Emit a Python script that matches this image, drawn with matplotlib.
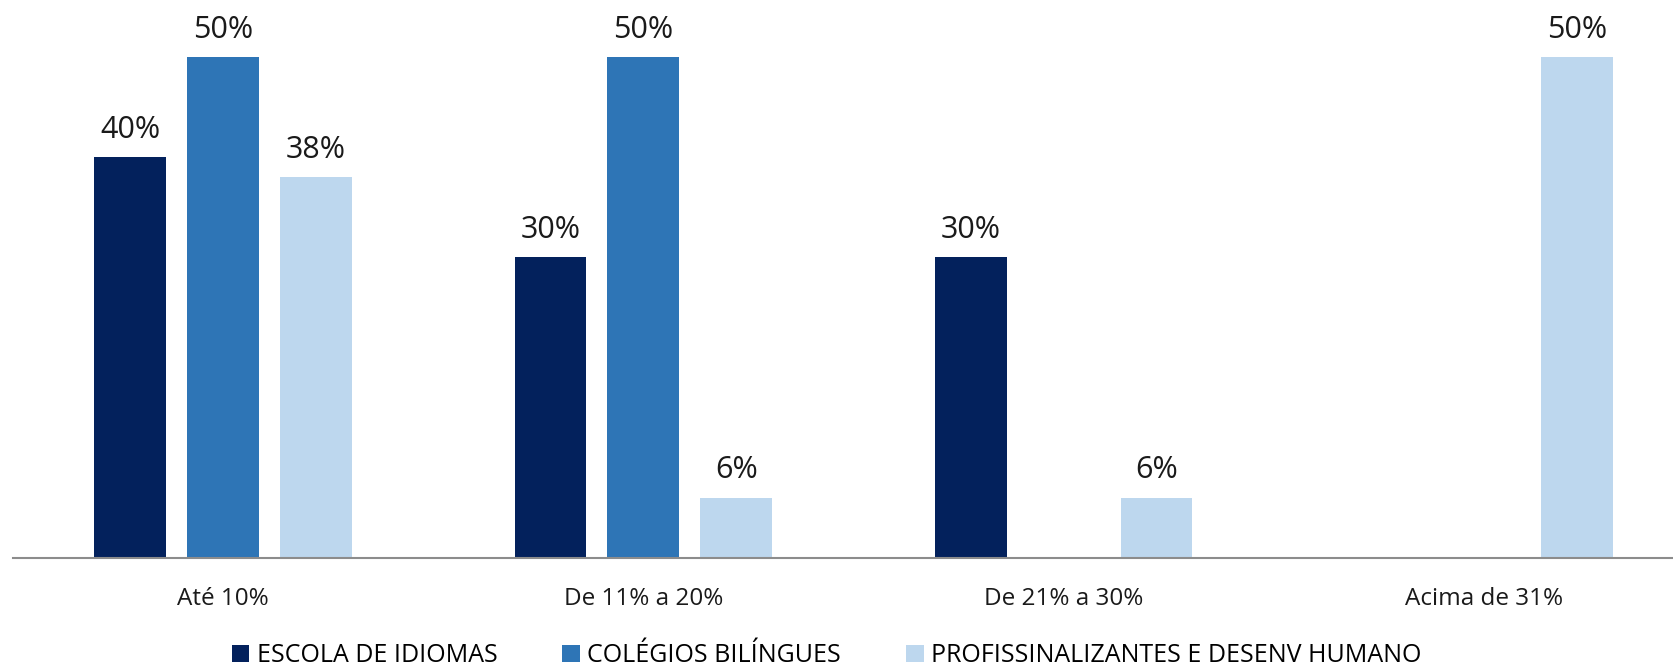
import matplotlib.pyplot as plt
from matplotlib.patches import Patch
import numpy as np

# --- Data ---
faixas = ["Até 10%", "De 11% a 20%", "De 21% a 30%", "Acima de 31%"]
series = ["ESCOLA DE IDIOMAS", "COLÉGIOS BILÍNGUES", "PROFISSINALIZANTES E DESENV HUMANO"]
escola_idiomas = [0.40, 0.30, 0.30, None]
colegios_bilingues = [0.50, 0.50, None, None]
profissionalizantes = [0.38, 0.06, 0.06, 0.50]

cores = ["#03215C", "#2E75B6", "#BDD7EE"]

plt.rcParams['font.family'] = ['Open Sans', 'DejaVu Sans']

fig = plt.figure(figsize=(16.73, 6.67), dpi=100)
ax = fig.add_axes([13 / 1673, 0.1634, 1 - 13 / 1673, 0.9895 - 0.1634])

x = np.arange(len(faixas))
largura = 0.171
deslocamento = 0.221

for i, (valores, cor) in enumerate(zip([escola_idiomas, colegios_bilingues, profissionalizantes], cores)):
    pos = x + (i - 1) * deslocamento
    for xp, v in zip(pos, valores):
        if v is None:
            continue
        ax.bar(xp, v, width=largura, color=cor, zorder=2)
        ax.annotate(f"{v * 100:.0f}%", (xp, v), xytext=(0, 9), textcoords="offset points",
                    ha="center", va="bottom", fontsize=22, color="#1a1a1a", clip_on=False)

ax.set_xlim(-0.5, 3.45)
ax.set_ylim(0, 0.55)

for lado in ["top", "right", "left"]:
    ax.spines[lado].set_visible(False)
ax.spines["bottom"].set_color("#8c8c8c")
ax.spines["bottom"].set_linewidth(1.5)
ax.set_yticks([])
ax.set_xticks(x)
ax.set_xticklabels(faixas, fontsize=17.5, color="#1a1a1a")
ax.tick_params(axis="x", length=0, pad=21)

# --- Legend ---
handles = [Patch(facecolor=c, edgecolor="none") for c in cores]
fig.legend(handles, series, loc="center", bbox_to_anchor=(0.494, 0.017), ncol=3, frameon=False,
           handlelength=0.7, handleheight=0.7, handletextpad=0.3, columnspacing=2.6,
           prop={"family": ["Liberation Sans Narrow", "Open Sans", "DejaVu Sans"], "size": 18})

fig.savefig("out.png", dpi=100)
plt.close(fig)
